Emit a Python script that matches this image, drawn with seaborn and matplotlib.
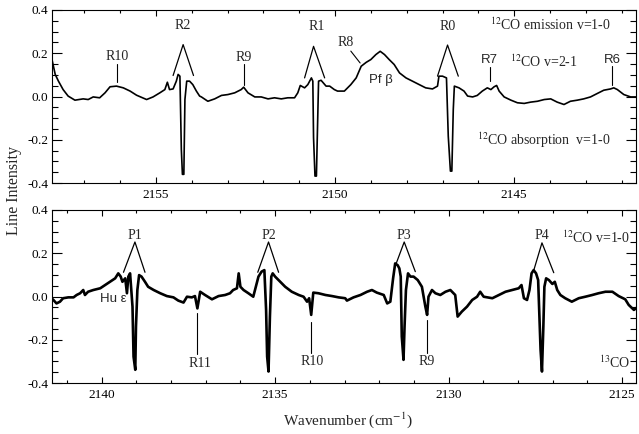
import matplotlib
matplotlib.use("Agg")
import matplotlib.pyplot as plt
from matplotlib.ticker import MultipleLocator, FormatStrFormatter
import pandas as pd
import seaborn as sns

# ---- spectrum, upper window (12CO R branch) ----
wn_top = [2157.91, 2157.81, 2157.72, 2157.59, 2157.45, 2157.26, 2157.03, 2156.89, 2156.75, 2156.57,
          2156.42, 2156.28, 2156.10, 2155.91, 2155.72, 2155.54, 2155.26, 2155.08, 2154.89, 2154.75,
          2154.68, 2154.62, 2154.52, 2154.43, 2154.38, 2154.33, 2154.29, 2154.26, 2154.22, 2154.19,
          2154.14, 2154.06, 2153.97, 2153.87, 2153.78, 2153.73, 2153.55, 2153.36, 2153.17, 2152.99,
          2152.80, 2152.62, 2152.55, 2152.43, 2152.24, 2152.06, 2151.87, 2151.69, 2151.50, 2151.32,
          2151.13, 2151.04, 2150.97, 2150.85, 2150.76, 2150.66, 2150.62, 2150.60, 2150.56, 2150.52,
          2150.48, 2150.46, 2150.39, 2150.25, 2150.15, 2150.02, 2149.93, 2149.74, 2149.56, 2149.41,
          2149.27, 2149.13, 2149.00, 2148.86, 2148.74, 2148.62, 2148.49, 2148.35, 2148.20, 2148.02,
          2147.84, 2147.65, 2147.47, 2147.28, 2147.14, 2147.10, 2147.00, 2146.89, 2146.84, 2146.78,
          2146.74, 2146.70, 2146.67, 2146.54, 2146.40, 2146.30, 2146.16, 2146.03, 2145.89, 2145.75,
          2145.65, 2145.56, 2145.49, 2145.42, 2145.28, 2145.09, 2144.91, 2144.72, 2144.54, 2144.35,
          2144.16, 2143.98, 2143.80, 2143.61, 2143.43, 2143.24, 2143.06, 2142.87, 2142.68, 2142.50,
          2142.31, 2142.22, 2142.12, 2141.94, 2141.75, 2141.58]
int_top = [0.178, 0.102, 0.071, 0.032, 0.002, -0.017, -0.011, -0.014, -0.002, -0.006,
           0.017, 0.045, 0.048, 0.040, 0.025, 0.006, -0.014, -0.002, 0.017, 0.032,
           0.066, 0.032, 0.035, 0.071, 0.102, 0.094, -0.245, -0.360, -0.360, -0.014,
           0.071, 0.071, 0.055, 0.025, 0.002, -0.002, -0.022, -0.011, 0.005, 0.009,
           0.017, 0.032, 0.043, 0.017, -0.002, -0.002, -0.011, -0.006, -0.011, -0.006,
           -0.006, 0.017, 0.051, 0.040, 0.055, 0.086, 0.071, -0.190, -0.368, -0.368,
           -0.075, 0.071, 0.075, 0.048, 0.048, 0.032, 0.025, 0.025, 0.055, 0.086,
           0.140, 0.158, 0.171, 0.194, 0.209, 0.194, 0.171, 0.148, 0.109, 0.086,
           0.071, 0.055, 0.040, 0.035, 0.048, 0.094, 0.094, 0.086, -0.183, -0.345,
           -0.345, -0.060, 0.048, 0.040, 0.025, 0.002, -0.002, 0.005, 0.025, 0.040,
           0.032, 0.045, 0.051, 0.025, -0.002, -0.017, -0.029, -0.032, -0.026, -0.022,
           -0.014, -0.011, -0.026, -0.037, -0.022, -0.017, -0.011, -0.002, 0.014, 0.029,
           0.035, 0.040, 0.032, 0.009, -0.002, -0.002]

# ---- spectrum, lower window (12CO P branch) ----
wn_bot = [2141.44, 2141.39, 2141.30, 2141.20, 2141.11, 2140.96, 2140.81, 2140.72, 2140.62, 2140.53,
          2140.48, 2140.39, 2140.24, 2140.04, 2139.90, 2139.76, 2139.61, 2139.52, 2139.45, 2139.40,
          2139.32, 2139.27, 2139.23, 2139.18, 2139.11, 2139.08, 2139.03, 2139.01, 2138.97, 2138.92,
          2138.85, 2138.75, 2138.66, 2138.50, 2138.31, 2138.12, 2137.93, 2137.79, 2137.64, 2137.54,
          2137.40, 2137.31, 2137.24, 2137.16, 2137.02, 2136.82, 2136.63, 2136.44, 2136.30, 2136.21,
          2136.10, 2136.05, 2136.00, 2135.91, 2135.77, 2135.63, 2135.58, 2135.48, 2135.39, 2135.31,
          2135.26, 2135.23, 2135.19, 2135.15, 2135.11, 2135.07, 2135.00, 2134.85, 2134.71, 2134.52,
          2134.32, 2134.18, 2134.08, 2134.02, 2133.96, 2133.90, 2133.75, 2133.55, 2133.36, 2133.17,
          2132.98, 2132.93, 2132.74, 2132.54, 2132.35, 2132.21, 2132.07, 2131.87, 2131.77, 2131.68,
          2131.60, 2131.54, 2131.47, 2131.42, 2131.38, 2131.35, 2131.30, 2131.27, 2131.23, 2131.17,
          2131.10, 2131.01, 2130.89, 2130.77, 2130.67, 2130.62, 2130.58, 2130.48, 2130.38, 2130.24,
          2130.09, 2129.95, 2129.81, 2129.74, 2129.62, 2129.47, 2129.32, 2129.18, 2129.09, 2128.99,
          2128.74, 2128.55, 2128.36, 2128.17, 2127.98, 2127.90, 2127.83, 2127.74, 2127.67, 2127.61,
          2127.55, 2127.48, 2127.42, 2127.39, 2127.35, 2127.31, 2127.27, 2127.24, 2127.19, 2127.11,
          2127.01, 2126.94, 2126.87, 2126.78, 2126.64, 2126.45, 2126.25, 2126.06, 2125.86, 2125.68,
          2125.48, 2125.28, 2125.10, 2124.91, 2124.81, 2124.66, 2124.54]
int_bot = [-0.008, -0.016, -0.032, -0.024, -0.008, -0.004, -0.004, 0.007, 0.015, 0.030,
           0.007, 0.022, 0.030, 0.038, 0.053, 0.068, 0.084, 0.107, 0.092, 0.068,
           0.084, 0.015, 0.092, 0.107, -0.047, -0.278, -0.339, -0.139, 0.030, 0.099,
           0.092, 0.068, 0.045, 0.030, 0.015, 0.002, -0.004, -0.019, -0.028, -0.001,
           -0.004, 0.002, -0.055, 0.022, 0.007, -0.013, 0.002, 0.007, 0.015, 0.030,
           0.038, 0.107, 0.045, 0.030, 0.015, -0.001, 0.030, 0.092, 0.115, 0.122,
           -0.062, -0.278, -0.347, -0.093, 0.092, 0.107, 0.092, 0.068, 0.045, 0.022,
           0.007, -0.001, -0.024, -0.008, -0.085, 0.018, 0.015, 0.007, 0.002, -0.004,
           -0.008, -0.019, -0.004, 0.007, 0.022, 0.030, 0.018, 0.007, -0.032, -0.024,
           0.084, 0.153, 0.145, 0.130, 0.092, -0.185, -0.293, -0.139, 0.030, 0.107,
           0.092, 0.092, 0.076, 0.045, -0.047, -0.085, -0.001, 0.030, 0.015, 0.007,
           0.022, 0.030, 0.007, -0.093, -0.070, -0.047, -0.016, -0.001, 0.022, -0.001,
           -0.008, 0.007, 0.022, 0.030, 0.038, 0.053, -0.008, -0.016, 0.030, 0.107,
           0.122, 0.107, 0.076, -0.062, -0.247, -0.347, -0.139, 0.045, 0.084, 0.076,
           0.058, 0.068, 0.030, 0.007, -0.008, -0.024, -0.008, -0.001, 0.007, 0.015,
           0.022, 0.022, 0.002, -0.013, -0.039, -0.062, -0.047]

# ---- line identifications ----
# text labels: (text, wavenumber, intensity, font)
serif, sans = "Liberation Serif", "Liberation Sans"
labels_top = [("R10", 2156.09, 0.185, serif), ("R2", 2154.24, 0.33, serif),
              ("R9", 2152.55, 0.18, serif), ("R1", 2150.52, 0.325, serif),
              ("R8", 2149.69, 0.25, serif), ("Pf β", 2148.71, 0.078, sans),
              ("R0", 2146.86, 0.325, serif), ("R7", 2145.70, 0.17, sans),
              (r"$^{12}$CO v=2-1", 2144.16, 0.163, serif),
              (r"$^{12}$CO emission v=1-0", 2144.00, 0.33, serif),
              ("R6", 2142.26, 0.17, sans),
              (r"$^{12}$CO absorption  v=1-0", 2144.18, -0.20, serif)]
labels_bot = [("P1", 2139.04, 0.28, serif), ("Hu ε", 2139.66, -0.012, sans),
              ("R11", 2137.16, -0.308, serif), ("P2", 2135.19, 0.28, serif),
              ("R10", 2133.94, -0.30, serif), ("P3", 2131.28, 0.28, serif),
              ("R9", 2130.62, -0.30, serif), ("P4", 2127.31, 0.28, serif)]
labels_bot_right = [(r"$^{12}$CO v=1-0", 2124.76, 0.27), (r"$^{13}$CO", 2124.76, -0.305)]

# pointer sticks: (x0, y0, x1, y1)
sticks_top = [(2156.09, 0.066, 2156.09, 0.150), (2152.55, 0.055, 2152.55, 0.148),
              (2149.56, 0.210, 2149.30, 0.155), (2145.67, 0.070, 2145.67, 0.137),
              (2142.26, 0.051, 2142.26, 0.140)]
sticks_bot = [(2137.24, -0.078, 2137.24, -0.265), (2133.96, -0.118, 2133.96, -0.262),
              (2130.62, -0.110, 2130.62, -0.262)]
# emission/absorption carets: (left x, left y, apex x, apex y, right x, right y)
carets_top = [(2154.52, 0.097, 2154.24, 0.240, 2153.95, 0.097),
              (2150.85, 0.086, 2150.60, 0.232, 2150.29, 0.086),
              (2147.14, 0.094, 2146.86, 0.238, 2146.56, 0.094)]
carets_bot = [(2139.37, 0.112, 2139.04, 0.252, 2138.75, 0.112),
              (2135.50, 0.112, 2135.19, 0.252, 2134.90, 0.112),
              (2131.51, 0.153, 2131.28, 0.252, 2130.96, 0.115),
              (2127.55, 0.119, 2127.31, 0.248, 2126.97, 0.110)]

sns.set_theme(style="ticks")
plt.rcParams["font.family"] = ["Liberation Serif", "DejaVu Sans"]
plt.rcParams["mathtext.fontset"] = "stix"
plt.rcParams["axes.unicode_minus"] = False
plt.rcParams["axes.edgecolor"] = "black"
plt.rcParams["axes.linewidth"] = 0.8

fig = plt.figure(figsize=(6.39, 4.34), dpi=100)
ax1 = fig.add_axes([52 / 639, 1 - 183 / 434, 584 / 639, 173 / 434])
ax2 = fig.add_axes([52 / 639, 1 - 383 / 434, 584 / 639, 173 / 434])

top = pd.DataFrame({"wn": wn_top, "I": int_top})
bot = pd.DataFrame({"wn": wn_bot, "I": int_bot})
sns.lineplot(data=top, x="wn", y="I", ax=ax1, color="black", lw=1.2, estimator=None)
sns.lineplot(data=bot, x="wn", y="I", ax=ax2, color="black", lw=1.9, estimator=None)

ax1.set_xlim(2157.90, 2141.60)
ax2.set_xlim(2141.43, 2124.60)

for ax in (ax1, ax2):
    ax.set_ylim(-0.4, 0.4)
    ax.set_xlabel("")
    ax.set_ylabel("")
    ax.xaxis.set_major_locator(MultipleLocator(5))
    ax.xaxis.set_minor_locator(MultipleLocator(1))
    ax.yaxis.set_major_locator(MultipleLocator(0.2))
    ax.yaxis.set_minor_locator(MultipleLocator(0.05))
    ax.yaxis.set_major_formatter(FormatStrFormatter("%.1f"))
    ax.tick_params(which="both", direction="in", top=True, right=True,
                   labelsize=9.5, colors="black", width=0.8)
    ax.tick_params(axis="y", which="major", length=7, pad=2.5)
    ax.tick_params(axis="y", which="minor", length=4)
    ax.tick_params(axis="x", which="major", length=4.5, pad=4)
    ax.tick_params(axis="x", which="minor", length=2.5)
    for s in ax.spines.values():
        s.set_color("black")

for ax, labels, sticks, carets in ((ax1, labels_top, sticks_top, carets_top),
                                   (ax2, labels_bot, sticks_bot, carets_bot)):
    for txt, x, y, fam in labels:
        if fam == sans:
            ax.text(x, y, txt, ha="center", va="center", fontsize=9.5, family=[sans, "DejaVu Sans"])
        else:
            ax.text(x, y, txt, ha="center", va="center", fontsize=10)
    for x0, y0, x1, y1 in sticks:
        ax.plot([x0, x1], [y0, y1], color="black", lw=0.8)
    for xl, yl, xa, ya, xr, yr in carets:
        ax.plot([xl, xa, xr], [yl, ya, yr], color="black", lw=0.9)

for txt, x, y in labels_bot_right:
    ax2.text(x, y, txt, ha="right", va="center", fontsize=10)

fig.text(0.022, 0.562, "Line Intensity", rotation=90, ha="center", va="center", fontsize=11.5)
fig.text(0.545, 0.032, r"Wavenumber (cm$^{-1}$)", ha="center", va="center", fontsize=11)

fig.savefig("out.png", dpi=100)
